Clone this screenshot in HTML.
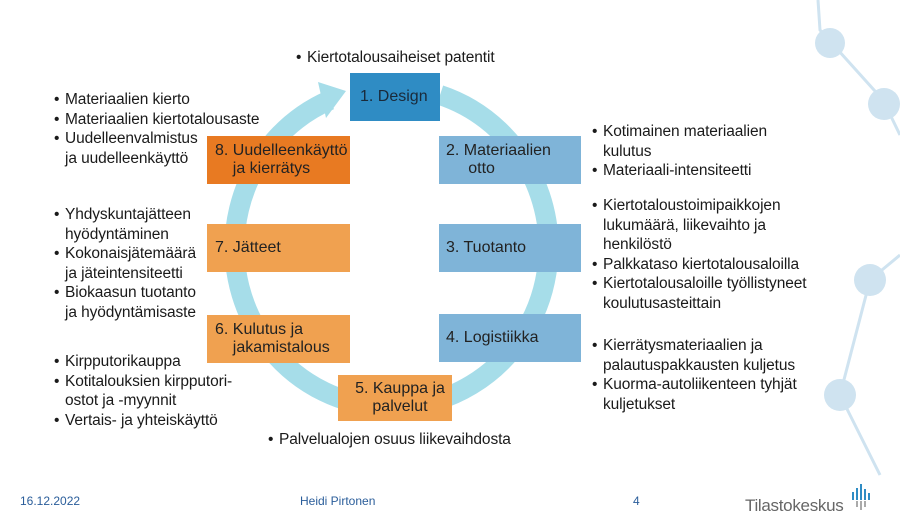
<!DOCTYPE html>
<html><head><meta charset="utf-8"><style>
body{margin:0;width:900px;height:520px;background:#fff;position:relative;overflow:hidden;font-family:"Liberation Sans",Arial,sans-serif;color:#1a1a1a}
.t{position:absolute;font-size:15.5px;line-height:19.5px;letter-spacing:-0.1px;white-space:nowrap}
.t div{position:relative;padding-left:11px}
.t div.b::before{content:"•";position:absolute;left:0}
.box{position:absolute;font-size:16px;line-height:18px;padding-left:10px;box-sizing:border-box;display:flex;align-items:center;color:#222}
.blue{background:#7fb4d8}
.or{background:#f0a150}
.f{position:absolute;font-size:12px;top:494px}
</style></head><body>
<svg width="900" height="520" style="position:absolute;left:0;top:0">
<g stroke="#cfe3f0" stroke-width="3" fill="none">
<path d="M818 0 L820 30 L883 100 L900 135"/>
<path d="M900 255 L870 280 L840 395 L880 475"/>
</g>
<g fill="#cfe3f0">
<circle cx="830" cy="43" r="15"/><circle cx="884" cy="104" r="16"/>
<circle cx="870" cy="280" r="16"/><circle cx="840" cy="395" r="16"/>
</g>
<path d="M 330 100 A 157 160 0 1 0 440 95" fill="none" stroke="#a6dde9" stroke-width="20"/>
<polygon points="318,82 346,91 326,118" fill="#a6dde9"/>
</svg>
<div class="box" style="left:350px;top:73px;width:90px;height:48px;background:#2f8cc4;color:#1a2a3a">1. Design</div>
<div class="box blue" style="left:439px;top:136px;width:142px;height:48px;padding-left:7px">2. Materiaalien<br>&nbsp;&nbsp;&nbsp;&nbsp;&nbsp;otto</div>
<div class="box blue" style="left:439px;top:224px;width:142px;height:48px;padding-left:7px">3. Tuotanto</div>
<div class="box blue" style="left:439px;top:314px;width:142px;height:48px;padding-left:7px">4. Logistiikka</div>
<div class="box or" style="left:338px;top:375px;width:114px;height:46px;justify-content:center;text-align:center">5. Kauppa ja<br>palvelut</div>
<div class="box" style="left:207px;top:136px;width:143px;height:48px;background:#e87a22;padding-left:8px">8. Uudelleenkäyttö<br>&nbsp;&nbsp;&nbsp;&nbsp;ja kierrätys</div>
<div class="box or" style="left:207px;top:224px;width:143px;height:48px;padding-left:8px">7. Jätteet</div>
<div class="box or" style="left:207px;top:315px;width:143px;height:48px;padding-left:8px">6. Kulutus ja<br>&nbsp;&nbsp;&nbsp;&nbsp;jakamistalous</div>

<div class="t" style="left:296px;top:48px"><div class="b">Kiertotalousaiheiset patentit</div></div>
<div class="t" style="left:268px;top:430px"><div class="b">Palvelualojen osuus liikevaihdosta</div></div>

<div class="t" style="left:54px;top:90px"><div class="b">Materiaalien kierto</div><div class="b">Materiaalien kiertotalousaste</div><div class="b">Uudelleenvalmistus</div><div>ja uudelleenkäyttö</div></div>
<div class="t" style="left:54px;top:205px"><div class="b">Yhdyskuntajätteen</div><div>hyödyntäminen</div><div class="b">Kokonaisjätemäärä</div><div>ja jäteintensiteetti</div><div class="b">Biokaasun tuotanto</div><div>ja hyödyntämisaste</div></div>
<div class="t" style="left:54px;top:352px"><div class="b">Kirpputorikauppa</div><div class="b">Kotitalouksien kirpputori-</div><div>ostot ja -myynnit</div><div class="b">Vertais- ja yhteiskäyttö</div></div>

<div class="t" style="left:592px;top:122px"><div class="b">Kotimainen materiaalien</div><div>kulutus</div><div class="b">Materiaali-intensiteetti</div></div>
<div class="t" style="left:592px;top:196px"><div class="b">Kiertotaloustoimipaikkojen</div><div>lukumäärä, liikevaihto ja</div><div>henkilöstö</div><div class="b">Palkkataso kiertotalousaloilla</div><div class="b">Kiertotalousaloille työllistyneet</div><div>koulutusasteittain</div></div>
<div class="t" style="left:592px;top:336px"><div class="b">Kierrätysmateriaalien ja</div><div>palautuspakkausten kuljetus</div><div class="b">Kuorma-autoliikenteen tyhjät</div><div>kuljetukset</div></div>

<div class="f" style="left:20px;color:#2a5d9a">16.12.2022</div>
<div class="f" style="left:300px;color:#2a5d9a">Heidi Pirtonen</div>
<div class="f" style="left:633px;color:#2a5d9a">4</div>
<div style="position:absolute;left:745px;top:496px;font-size:17px;color:#666;letter-spacing:-0.3px">Tilastokeskus</div>
<svg width="20" height="30" style="position:absolute;left:852px;top:484px">
<g fill="#2f8cc4"><rect x="0" y="8" width="2" height="8"/><rect x="4" y="4" width="2" height="12"/><rect x="8" y="0" width="2" height="16"/><rect x="12" y="5" width="2" height="11"/><rect x="16" y="9" width="2" height="7"/></g>
<g fill="#aaa"><rect x="4" y="17" width="2" height="6"/><rect x="8" y="17" width="2" height="9"/><rect x="12" y="17" width="2" height="6"/></g>
</svg>
</body></html>
